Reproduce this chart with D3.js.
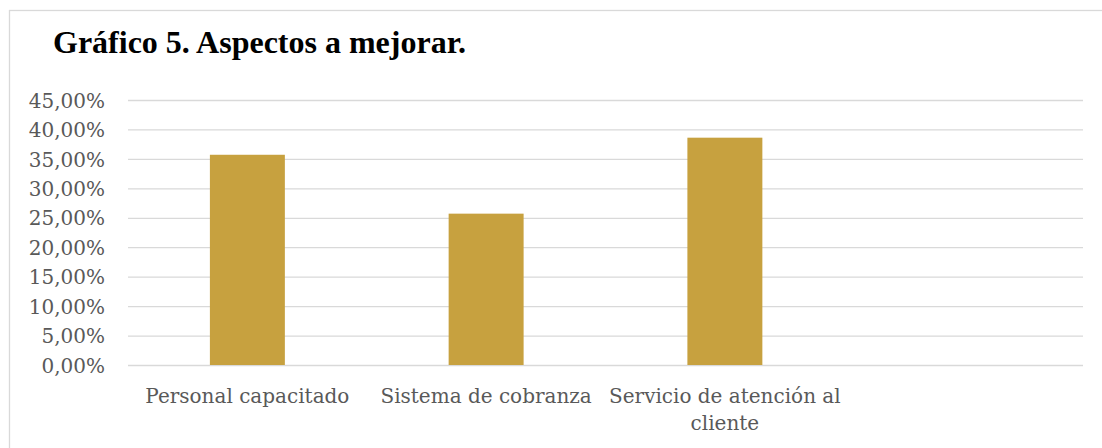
<!DOCTYPE html>
<html>
<head>
<meta charset="utf-8">
<script src="https://cdn.jsdelivr.net/npm/d3@7"></script>
<style>
  body { margin: 0; background: #fff; }
  svg { display: block; }
</style>
</head>
<body>
<svg id="chart"></svg>
<script>
'use strict';

// chart data
var categories = ['Personal capacitado', 'Sistema de cobranza', 'Servicio de atención al cliente', ''];
var values = [0.357, 0.257, 0.386, null];
var yTicks = [0, 0.05, 0.10, 0.15, 0.20, 0.25, 0.30, 0.35, 0.40, 0.45];
var title = 'Gráfico 5. Aspectos a mejorar.';

var width = 1102;
var height = 448;
var margin = {top: 100, right: 19, bottom: 83, left: 128};

var svg = d3.select('#chart')
    .attr('width', width)
    .attr('height', height);

// outer frame (only top and left edges are visible)
svg.append('rect')
    .attr('x', 9.5)
    .attr('y', 10.5)
    .attr('width', width + 20)
    .attr('height', height + 20)
    .attr('fill', '#fff')
    .attr('stroke', '#d9d9d9')
    .attr('stroke-width', 1.3);

svg.append('text')
    .attr('x', 53)
    .attr('y', 53)
    .attr('font-family', '"Liberation Serif", serif')
    .attr('font-weight', 'bold')
    .attr('font-size', 32)
    .attr('fill', '#000')
    .text(title);

var plotW = width - margin.left - margin.right;
var plotH = height - margin.top - margin.bottom;

var x = d3.scaleBand()
    .domain(categories.map(function(d, i) { return i; }))
    .range([0, plotW])
    .paddingInner(0.686)
    .paddingOuter(0.343);

var y = d3.scaleLinear()
    .domain([0, 0.45])
    .range([plotH, 0]);

var g = svg.append('g')
    .attr('transform', 'translate(' + margin.left + ',' + margin.top + ')');

// gridlines + y labels
var yAxis = d3.axisLeft(y)
    .tickValues(yTicks)
    .tickSize(-plotW)
    .tickPadding(23)
    .tickFormat(function(d) { return d3.format('.2f')(d * 100).replace('.', ',') + '%'; });

var ya = g.append('g').call(yAxis);
ya.select('.domain').remove();
ya.selectAll('.tick line')
    .attr('stroke', '#d9d9d9')
    .attr('stroke-width', 1.3);
ya.selectAll('.tick text')
    .attr('font-family', '"DejaVu Serif", serif')
    .attr('font-size', 20)
    .attr('fill', '#595959')
    .attr('dy', '0.36em');

// bars
g.selectAll('.bar')
    .data(values)
    .enter().filter(function(d) { return d != null; })
    .append('rect')
    .attr('class', 'bar')
    .attr('x', function(d, i) { return x(i); })
    .attr('y', function(d) { return y(d); })
    .attr('width', x.bandwidth())
    .attr('height', function(d) { return plotH - y(d); })
    .attr('fill', '#c7a13f');

// category labels, wrapped to the slot width
var slot = plotW / categories.length;
var labels = g.append('g')
    .attr('transform', 'translate(0,' + plotH + ')');

categories.forEach(function(name, i) {
    if (!name) return;
    var cx = x(i) + x.bandwidth() / 2;
    var t = labels.append('text')
        .attr('x', cx)
        .attr('y', 38)
        .attr('text-anchor', 'middle')
        .attr('font-family', '"DejaVu Serif", serif')
        .attr('font-size', 20)
        .attr('fill', '#595959');
    var words = name.split(' ');
    var line = [];
    var tspan = t.append('tspan').attr('x', cx).attr('dy', 0);
    words.forEach(function(w) {
        line.push(w);
        tspan.text(line.join(' '));
        if (tspan.node().getComputedTextLength() > slot && line.length > 1) {
            line.pop();
            tspan.text(line.join(' '));
            line = [w];
            tspan = t.append('tspan').attr('x', cx).attr('dy', 27).text(w);
        }
    });
});
</script>
</body>
</html>
